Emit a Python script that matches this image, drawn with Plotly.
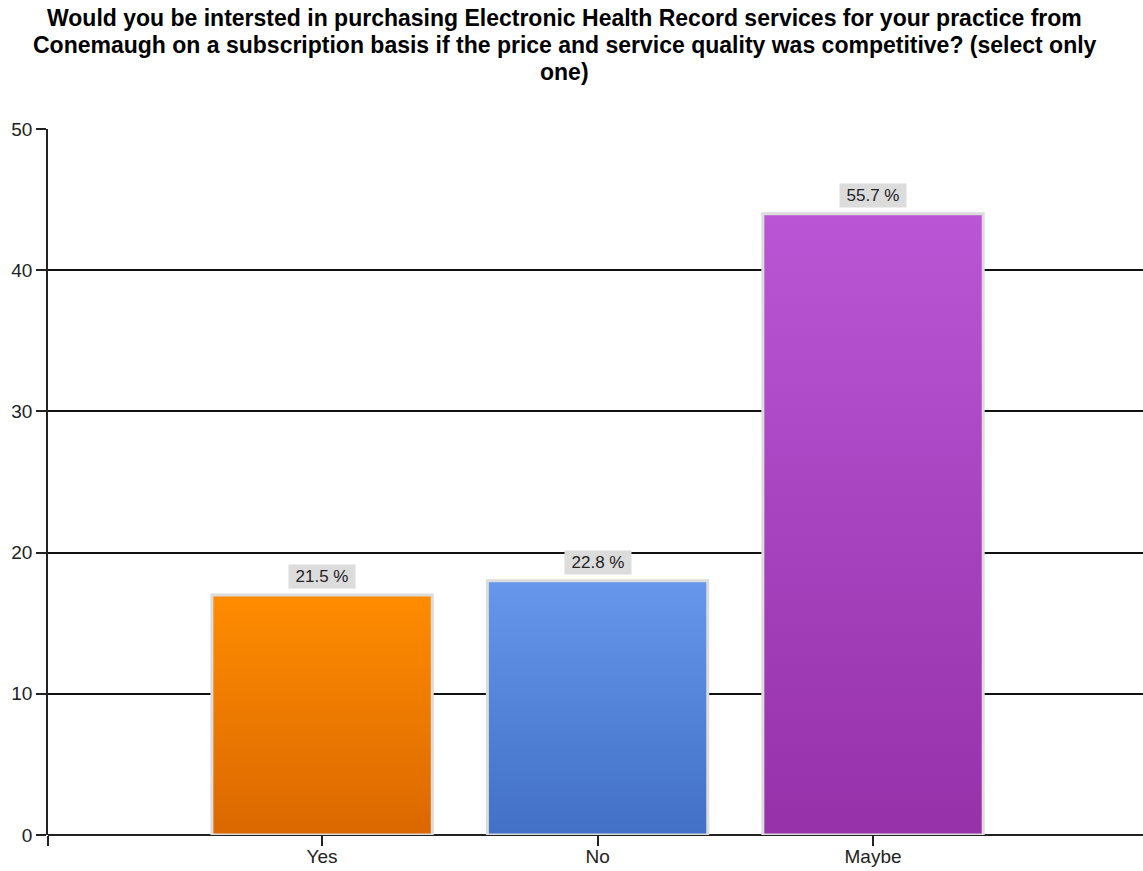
import plotly.graph_objects as go

# Survey responses
categories = ["Yes", "No", "Maybe"]
counts = [17, 18, 44]
percent_labels = ["21.5 %", "22.8 %", "55.7 %"]

# Vertical gradient per bar: (bottom colour, top colour)
bar_gradients = [
    ("#DB6800", "#FF8C00"),
    ("#4170C6", "#6697EC"),
    ("#9631AA", "#BA55D5"),
]

title_lines = [
    "Would you be intersted in purchasing Electronic Health Record services for your practice from",
    "Conemaugh on a subscription basis if the price and service quality was competitive? (select only",
    "one)",
]

FONT = "Liberation Sans, Arial"
BAR_WIDTH = 0.8
X_RANGE = [-0.995, 2.98]
PLOT_TOP, PLOT_BOTTOM = 129, 835
FIG_H = 871

fig = go.Figure()

for i, (cat, val) in enumerate(zip(categories, counts)):
    left, right = i - BAR_WIDTH / 2, i + BAR_WIDTH / 2
    bottom_c, top_c = bar_gradients[i]
    fig.add_trace(go.Scatter(
        x=[left, right, right, left, left],
        y=[0, 0, val, val, 0],
        mode="lines",
        fill="toself",
        fillgradient=dict(type="vertical", colorscale=[[0, bottom_c], [1, top_c]]),
        line=dict(color="#DCDCDC", width=3),
        name=cat,
        hoverinfo="skip",
        showlegend=False,
    ))

for i, (val, lab) in enumerate(zip(counts, percent_labels)):
    fig.add_annotation(
        x=i, y=val, text=lab, showarrow=False,
        yanchor="bottom", yshift=6,
        bgcolor="#DCDCDC", borderpad=2, width=62,
        font=dict(family=FONT, size=17, color="#222222"),
    )

# Chart title: one annotation per line for tight line spacing
plot_h = PLOT_BOTTOM - PLOT_TOP
for k, line in enumerate(title_lines):
    centre_px = 18 + 27 * k
    fig.add_annotation(
        xref="paper", yref="paper", x=0.472,
        y=(PLOT_BOTTOM - centre_px) / plot_h,
        xanchor="center", yanchor="middle",
        text=f"<b>{line}</b>", showarrow=False,
        font=dict(family=FONT, size=23, color="black"),
    )

fig.update_layout(
    width=1143, height=FIG_H,
    paper_bgcolor="white", plot_bgcolor="white",
    margin=dict(l=48, r=0, t=PLOT_TOP, b=FIG_H - PLOT_BOTTOM),
    font=dict(family=FONT, color="#222222"),
    xaxis=dict(
        range=X_RANGE,
        tickvals=[X_RANGE[0], 0, 1, 2],
        ticktext=["", *categories],
        ticks="outside", ticklen=10, tickwidth=1.5, tickcolor="#222222",
        ticklabelstandoff=-6,
        showgrid=False, zeroline=False,
        showline=False, automargin=False,
        tickfont=dict(size=19, color="#222222"),
    ),
    yaxis=dict(
        range=[0, 50], tickvals=[0, 10, 20, 30, 40, 50],
        ticks="outside", ticklen=10, tickwidth=1.5, tickcolor="#222222",
        showgrid=True, gridcolor="#111111", gridwidth=1.5,
        zeroline=True, zerolinecolor="#222222", zerolinewidth=1.5,
        showline=True, linecolor="#222222", linewidth=1.5, automargin=False,
        tickfont=dict(size=19, color="#222222"),
    ),
)

fig.write_html("out.html")
